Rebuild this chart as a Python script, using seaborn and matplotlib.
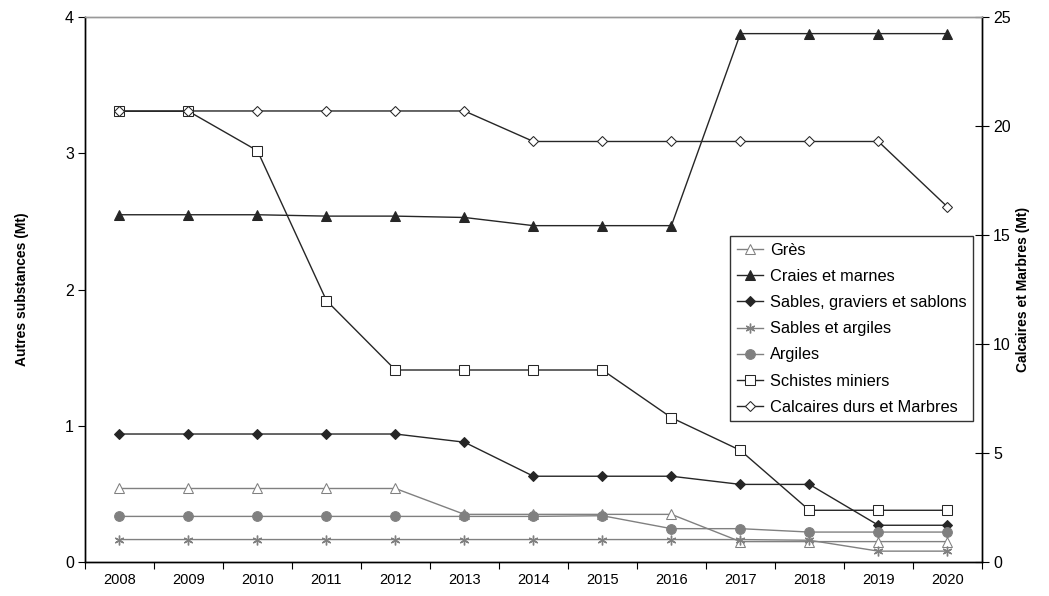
import pandas as pd
import matplotlib
matplotlib.use("Agg")
import matplotlib.pyplot as plt
import seaborn as sns

years = [2008, 2009, 2010, 2011, 2012, 2013, 2014, 2015, 2016, 2017, 2018, 2019, 2020]

# left axis (Mt)
gres = [0.54, 0.54, 0.54, 0.54, 0.54, 0.35, 0.35, 0.35, 0.35, 0.15, 0.15, 0.15, 0.15]
craies = [2.55, 2.55, 2.55, 2.54, 2.54, 2.53, 2.47, 2.47, 2.47, 3.88, 3.88, 3.88, 3.88]
sables_graviers = [0.94, 0.94, 0.94, 0.94, 0.94, 0.88, 0.63, 0.63, 0.63, 0.57, 0.57, 0.27, 0.27]
sables_argiles = [0.165, 0.165, 0.165, 0.165, 0.165, 0.165, 0.165, 0.165, 0.165, 0.165, 0.16, 0.08, 0.08]
argiles = [0.335, 0.335, 0.335, 0.335, 0.335, 0.335, 0.335, 0.34, 0.245, 0.245, 0.22, 0.22, 0.22]
schistes = [3.31, 3.31, 3.02, 1.92, 1.41, 1.41, 1.41, 1.41, 1.06, 0.82, 0.38, 0.38, 0.38]
# right axis (Mt)
calcaires = [20.7, 20.7, 20.7, 20.7, 20.7, 20.7, 19.3, 19.3, 19.3, 19.3, 19.3, 19.3, 16.3]

plt.rcParams['font.family'] = ['Liberation Sans', 'DejaVu Sans']
plt.rcParams['font.size'] = 10

idx = list(range(len(years)))
fig, ax = plt.subplots(figsize=(10.49, 5.96), dpi=100)
fig.subplots_adjust(left=0.081, right=0.936, top=0.971, bottom=0.057)
ax2 = ax.twinx()

dark = '#262626'
grey = '#808080'

styles = [
    ('Grès', gres, ax, dict(color=grey, marker='^', markersize=7, markerfacecolor='white', markeredgecolor=grey)),
    ('Craies et marnes', craies, ax, dict(color=dark, marker='^', markersize=7.5, markerfacecolor=dark, markeredgecolor=dark)),
    ('Sables, graviers et sablons', sables_graviers, ax, dict(color=dark, marker='D', markersize=5.5, markerfacecolor=dark, markeredgecolor=dark)),
    ('Sables et argiles', sables_argiles, ax, dict(color=grey, marker=(6, 2, 0), markersize=7, markeredgecolor=grey, markeredgewidth=1)),
    ('Argiles', argiles, ax, dict(color=grey, marker='o', markersize=7, markerfacecolor=grey, markeredgecolor=grey)),
    ('Schistes miniers', schistes, ax, dict(color=dark, marker='s', markersize=6.5, markerfacecolor='white', markeredgecolor=dark)),
    ('Calcaires durs et Marbres', calcaires, ax2, dict(color=dark, marker='D', markersize=5.5, markerfacecolor='white', markeredgecolor=dark)),
]

handles = []
for name, vals, a, kw in styles:
    df = pd.DataFrame({'x': idx, 'y': vals})
    sns.lineplot(data=df, x='x', y='y', ax=a, linewidth=1, label=name, legend=False, **kw)
    handles.append(a.lines[-1])

ax.set_ylim(0, 4)
ax2.set_ylim(0, 25)
ax.set_yticks([0, 1, 2, 3, 4])
ax2.set_yticks([0, 5, 10, 15, 20, 25])
ax.set_xlim(-0.5, len(years) - 0.5)
ax.set_xticks([i - 0.5 for i in range(len(years) + 1)])
ax.set_xticklabels([])
ax.set_xticks(idx, minor=True)
ax.set_xticklabels([str(y) for y in years], minor=True)
ax.tick_params(axis='x', which='minor', length=0, pad=8, labelsize=10.5)
ax.tick_params(axis='x', which='major', length=5, direction='out', color='black')
ax.tick_params(axis='y', length=5, direction='out', labelsize=11.5, pad=3)
ax2.tick_params(axis='y', length=10, direction='inout', labelsize=11.5, pad=3)

ax.set_xlabel('')
ax.set_ylabel('Autres substances (Mt)', fontweight='bold', fontsize=10, labelpad=26)
ax2.set_ylabel('Calcaires et Marbres (Mt)', fontweight='bold', fontsize=10, labelpad=4)

for a in (ax, ax2):
    for s in ('left', 'right', 'bottom'):
        a.spines[s].set_color('black')
        a.spines[s].set_linewidth(1)
    a.spines['top'].set_color('#999999')
    a.spines['top'].set_linewidth(1)

leg = ax2.legend(handles=handles, loc='upper right', bbox_to_anchor=(0.99, 0.598),
                 borderaxespad=0, frameon=True, fancybox=False, edgecolor='black',
                 fontsize=11.8, handlelength=1.6, handletextpad=0.4,
                 labelspacing=0.68, borderpad=0.4)
leg.get_frame().set_linewidth(1)

fig.savefig('out.png', dpi=100)
